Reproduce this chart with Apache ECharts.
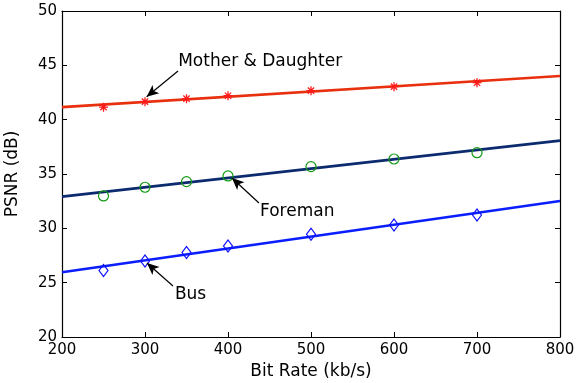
<!DOCTYPE html>
<html lang="en">
<head>
    <meta charset="UTF-8">
    <title>PSNR vs Bit Rate</title>
    <script src="https://cdn.jsdelivr.net/npm/echarts@6.0.0/dist/echarts.min.js"></script>
</head>
<body style="margin:0;background:#fff;">
    <div id="chart" style="width: 576px; height: 383px;"></div>
    <script>
        // measured points (bit rate kb/s -> PSNR dB)
        const bitRates = [250, 300, 350, 400, 500, 600, 700];
        const motherPts = [41.15, 41.66, 41.93, 42.2, 42.67, 43.04, 43.4];
        const foremanPts = [32.98, 33.78, 34.3, 34.82, 35.68, 36.38, 36.96];
        const busPts = [26.11, 27.0, 27.77, 28.38, 29.45, 30.31, 31.23];

        // fitted lines, end points at 200 and 800
        const fitX = [200, 800];
        const motherFit = [41.15, 44.02];
        const foremanFit = [32.92, 38.07];
        const busFit = [25.96, 32.52];

        // annotations (data units)
        const annoText = ['Mother & Daughter', 'Foreman', 'Bus'];
        const annoTextPos = [[340, 45.3], [438.6, 31.5], [336, 23.87]];
        const arrowFrom = [[339.8, 44.48], [437.3, 32.33], [333.7, 24.69]];
        const arrowTo = [[302, 42.11], [404.8, 34.63], [302.4, 26.81]];

        const xTicks = [200, 800, 100];
        const yTicks = [20, 50, 5];

        const font = 'DejaVu Sans';
        const myChart = echarts.init(document.getElementById('chart'));

        function pairs(xs, ys) {
            return xs.map((x, i) => [x, ys[i]]);
        }

        const asterisk = 'path://M5,0L5,10M0,5L10,5M1.5,1.5L8.5,8.5M1.5,8.5L8.5,1.5';

        let axisCommon = {
            axisLine: {show: true, lineStyle: {color: '#000', width: 1.2}},
            axisTick: {show: true, inside: true, length: 5, lineStyle: {color: '#000'}},
            splitLine: {show: false}
        };

        let option = {
            animation: false,
            grid: {left: 62, right: 16, top: 11, bottom: 46, containLabel: false, outerBoundsMode: 'none'},
            xAxis: [
                Object.assign({
                    type: 'value', min: xTicks[0], max: xTicks[1], interval: xTicks[2],
                    position: 'bottom',
                    name: 'Bit Rate (kb/s)', nameLocation: 'middle', nameGap: 24,
                    nameTextStyle: {fontFamily: font, fontSize: 17, color: '#000'},
                    axisLabel: {fontFamily: font, fontSize: 15, color: '#000', margin: 6}
                }, axisCommon),
                Object.assign({
                    type: 'value', min: xTicks[0], max: xTicks[1], interval: xTicks[2],
                    position: 'top', axisLabel: {show: false}
                }, axisCommon)
            ],
            yAxis: [
                Object.assign({
                    type: 'value', min: yTicks[0], max: yTicks[1], interval: yTicks[2],
                    position: 'left',
                    name: 'PSNR (dB)', nameLocation: 'middle', nameGap: 41,
                    nameTextStyle: {fontFamily: font, fontSize: 17, color: '#000'},
                    axisLabel: {fontFamily: font, fontSize: 15, color: '#000', margin: 5}
                }, axisCommon),
                Object.assign({
                    type: 'value', min: yTicks[0], max: yTicks[1], interval: yTicks[2],
                    position: 'right', axisLabel: {show: false}
                }, axisCommon)
            ],
            series: [
                {
                    type: 'line', data: pairs(fitX, motherFit), showSymbol: false,
                    lineStyle: {color: '#e8300e', width: 2.6}, z: 3
                },
                {
                    type: 'line', data: pairs(fitX, foremanFit), showSymbol: false,
                    lineStyle: {color: '#0b2b6e', width: 2.6}, z: 3
                },
                {
                    type: 'line', data: pairs(fitX, busFit), showSymbol: false,
                    lineStyle: {color: '#0a1eff', width: 2.6}, z: 3
                },
                {
                    type: 'scatter', data: pairs(bitRates, motherPts),
                    symbol: asterisk, symbolSize: 9,
                    itemStyle: {color: 'none', borderColor: '#ff1a1a', borderWidth: 1.3, opacity: 1}, z: 4
                },
                {
                    type: 'scatter', data: pairs(bitRates, foremanPts),
                    symbol: 'circle', symbolSize: 10,
                    itemStyle: {color: 'none', borderColor: '#139a13', borderWidth: 1.2, opacity: 1}, z: 4
                },
                {
                    type: 'scatter', data: pairs(bitRates, busPts),
                    symbol: 'diamond', symbolSize: [9, 12],
                    itemStyle: {color: 'none', borderColor: '#1010ff', borderWidth: 1.2, opacity: 1}, z: 4
                },
                {
                    type: 'scatter',
                    data: annoTextPos.map((p, i) => ({value: p, name: annoText[i]})),
                    symbolSize: 0,
                    itemStyle: {opacity: 1},
                    label: {
                        show: true, position: 'right', distance: 0,
                        formatter: '{b}', fontFamily: font, fontSize: 17, color: '#000'
                    },
                    silent: true, z: 5,
                    markLine: {
                        silent: true,
                        symbol: ['none', 'arrow'],
                        symbolSize: [8, 12],
                        label: {show: false},
                        lineStyle: {color: '#000', width: 1.2, type: 'solid', opacity: 1},
                        data: arrowFrom.map((p, i) => [{coord: p}, {coord: arrowTo[i]}])
                    }
                }
            ]
        };

        myChart.setOption(option);
    </script>
</body>
</html>
